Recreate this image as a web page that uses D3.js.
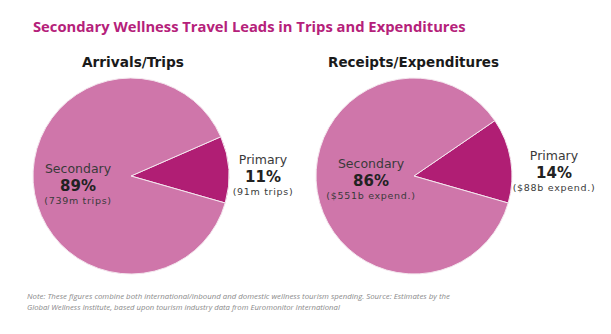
<!DOCTYPE html>
<html>
<head>
<meta charset="utf-8">
<script src="https://cdn.jsdelivr.net/npm/d3@7"></script>
<style>
  html, body { margin: 0; padding: 0; background: #fff; }
  svg { display: block; }
  text { font-family: "DejaVu Sans", "Open Sans", sans-serif; }
</style>
</head>
<body>
<svg id="chart" width="611" height="334"></svg>
<script>
const chartTitle = "Secondary Wellness Travel Leads in Trips and Expenditures";
const panelTitles = ["Arrivals/Trips", "Receipts/Expenditures"];
const categories = ["Primary", "Secondary"];
const tripsPct = [11, 89];
const tripsDetail = ["(91m trips)", "(739m trips)"];
const expendPct = [14, 86];
const expendDetail = ["($88b expend.)", "($551b expend.)"];
const noteLines = [
  "Note: These figures combine both international/inbound and domestic wellness tourism spending. Source: Estimates by the",
  "Global Wellness Institute, based upon tourism industry data from Euromonitor International"
];

const colors = d3.scaleOrdinal().domain(categories).range(["#b01e74", "#cf76aa"]);

const svg = d3.select("#chart");

function fitText(sel, width) {
  sel.each(function() {
    const w = this.getComputedTextLength();
    const fs = parseFloat(d3.select(this).attr("font-size"));
    d3.select(this).attr("font-size", (fs * width / w).toFixed(2));
  });
}

svg.append("text")
  .attr("x", 33).attr("y", 32)
  .attr("font-size", 16).attr("font-weight", 700)
  .attr("fill", "#b5217a")
  .style("font-family", "'Open Sans', sans-serif")
  .text(chartTitle)
  .call(fitText, 433);

const panels = [
  { cx: 131, cy: 176, r: 98, pct: tripsPct, detail: tripsDetail, title: panelTitles[0], titleX: 82, titleW: 102,
    end: 106, sec: [78, 168], pri: [263, 159] },
  { cx: 414, cy: 176, r: 98, pct: expendPct, detail: expendDetail, title: panelTitles[1], titleX: 328, titleW: 171,
    end: 106, sec: [371, 163], pri: [554, 155] }
];

panels.forEach(p => {
  const data = categories.map((c, i) => ({ cat: c, value: p.pct[i], detail: p.detail[i] }));
  const endRad = p.end * Math.PI / 180;
  const total = d3.sum(data, d => d.value);
  const priAngle = data[0].value / total * 2 * Math.PI;
  const pie = d3.pie().sort(null).value(d => d.value)
    .startAngle(endRad - priAngle).endAngle(endRad - priAngle + 2 * Math.PI);
  const arc = d3.arc().innerRadius(0).outerRadius(p.r);
  const g = svg.append("g").attr("transform", `translate(${p.cx},${p.cy})`);
  g.selectAll("path").data(pie(data)).join("path")
    .attr("d", arc)
    .attr("fill", d => colors(d.data.cat))
    .attr("stroke", "#f4e6ee").attr("stroke-width", 1);

  svg.append("text")
    .attr("x", p.titleX).attr("y", 67)
    .attr("font-size", 13).attr("font-weight", 700).attr("fill", "#1a1a1a")
    .text(p.title).call(fitText, p.titleW);

  [[data[1], p.sec], [data[0], p.pri]].forEach(([d, pos]) => {
    const t = svg.append("text").attr("text-anchor", "middle").attr("fill", "#3a3a3a")
      .attr("x", pos[0]).attr("y", pos[1] + 4.5);
    t.append("tspan").attr("x", pos[0]).attr("font-size", 12.5).text(d.cat);
    t.append("tspan").attr("x", pos[0]).attr("dy", 18.5)
      .attr("font-size", 15).attr("font-weight", 700).attr("fill", "#222").text(d.value + "%");
    t.append("tspan").attr("x", pos[0]).attr("dy", 12.5)
      .attr("font-size", 9.5).attr("letter-spacing", 0.7).text(d.detail);
  });
});

noteLines.forEach((line, i) => {
  svg.append("text")
    .attr("x", 27).attr("y", 299 + i * 10.7)
    .attr("font-size", 8).attr("font-style", "italic").attr("fill", "#8a8a8a")
    .style("font-family", "'Open Sans', sans-serif")
    .text(line)
    .call(fitText, i === 0 ? 423 : 313);
});
</script>
</body>
</html>
